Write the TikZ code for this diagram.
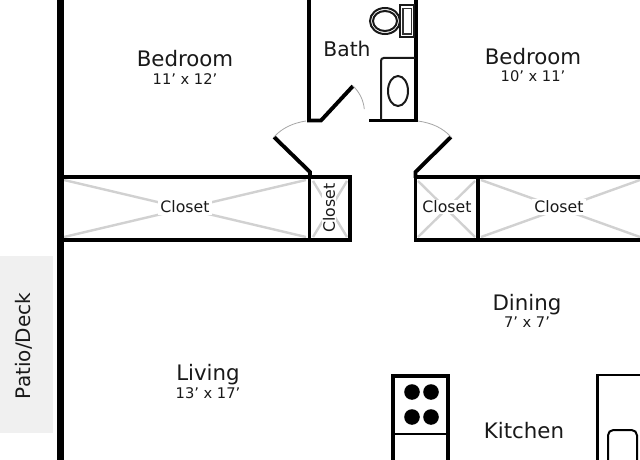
\documentclass[tikz,border=0pt]{standalone}
\usepackage{fontspec}
\setmainfont{DejaVu Sans}
\tikzset{
  x=0.75pt,y=-0.75pt,
  wall/.style={line width=3.4pt,line cap=butt,line join=miter,draw=black},
  thinwall/.style={line width=2.9pt,line cap=butt,line join=miter,draw=black},
  fixture/.style={line width=1.5pt,draw=black!90},
  swing/.style={line width=0.6pt,draw=black!35},
  xmark/.style={line width=1.8pt,draw=black!18},
  room/.style={font=\fontsize{16}{19}\selectfont,text=black!90,inner sep=0pt},
  size/.style={font=\fontsize{11}{13}\selectfont,text=black!90,inner sep=0pt},
  closetlabel/.style={font=\fontsize{11.8}{14}\selectfont,text=black!90,fill=white,inner sep=1.5pt},
}
\begin{document}
\begin{tikzpicture}
\useasboundingbox (0,0) rectangle (640,460);
\clip (0,0) rectangle (640,460);
\fill[white] (0,0) rectangle (640,460);
% patio
\fill[black!6] (0,256) rectangle (53,433);
% closet crosses
\draw[xmark] (64,180)--(306,237) (64,237)--(306,180);
\draw[xmark] (313,181)--(347,237) (313,237)--(347,181);
\draw[xmark] (418,181)--(475,237) (418,237)--(475,181);
\draw[xmark] (481,180)--(640,237) (481,237)--(640,180);
% outer wall
\draw[line width=5.4pt] (60.5,0)--(60.5,460);
% bath walls
\draw[thinwall] (309,0)--(309,120.5)--(321,120.5)--(353,86);
\draw[thinwall] (369,120.5)--(416,120.5);
\draw[thinwall] (416,0)--(416,122);
\draw[swing] (353,86) arc[start angle=-47,end angle=-5,radius=36];
% hall doors
\draw[thinwall] (310,178)--(310,172)--(274,137);
\draw[thinwall] (415.5,178)--(415.5,172)--(451,137);
\draw[swing] (274,137) .. controls (282,128) and (293,123) .. (306,121);
\draw[swing] (451,137) .. controls (443,128) and (432,123) .. (418,121);
% closets
\draw[thinwall] (60,177)--(350,177)--(350,240)--(60,240);
\draw[thinwall] (309.5,177)--(309.5,240);
\draw[thinwall] (640,177)--(415.5,177)--(415.5,240)--(640,240);
\draw[thinwall] (478,177)--(478,240);
% toilet
\draw[fixture] (385,21) ellipse[x radius=15,y radius=13];
\draw[fixture] (385,21) ellipse[x radius=12,y radius=10];
\draw[fixture,fill=white] (399.5,5) rectangle (414,37);
\draw[line width=1pt,draw=black!80] (403,8.5) rectangle (411.5,34);
% vanity
\draw[fixture,rounded corners=2pt] (381,120)--(381,58)--(415,58);
\draw[fixture] (398,91) ellipse[x radius=10,y radius=15];
% stove
\draw[line width=2.6pt] (393,460)--(393,376)--(448,376)--(448,460);
\draw[line width=1.8pt] (393,434)--(448,434);
\foreach \cx/\cy in {412/392,431/392,412/417,431/417}
  \fill[black] (\cx,\cy) circle[radius=7.8];
% fridge/counter
\draw[line width=2.2pt] (597.5,460)--(597.5,375)--(640,375);
\draw[line width=1.5pt,rounded corners=4pt] (608,461)--(608,430)--(637,430)--(637,461);
% labels
\node[room] (bedroomL) at (185,59) {Bedroom};
\node[size] (bedroomLs) at (185,79) {11' x 12'};
\node[room] (bedroomR) at (533,57) {Bedroom};
\node[size] (bedroomRs) at (533,76) {10' x 11'};
\node[room,font=\fontsize{15.2}{18}\selectfont] (bath) at (347,49) {Bath};
\node[closetlabel] (closetA) at (185,207) {Closet};
\node[closetlabel,rotate=90,inner sep=0.5pt] (closetB) at (329,208) {Closet};
\node[closetlabel,inner sep=0.5pt] (closetC) at (447,207) {Closet};
\node[closetlabel] (closetD) at (559,207) {Closet};
\node[room] (dining) at (527,304.5) {Dining};
\node[size] (diningS) at (527,322) {7' x 7'};
\node[room] (living) at (208,374.5) {Living};
\node[size] (livingS) at (208,393) {13' x 17'};
\node[room] (kitchen) at (524,431) {Kitchen};
\node[room,rotate=90,font=\fontsize{15}{18}\selectfont] (patio) at (24,346) {Patio/Deck};
\end{tikzpicture}
\end{document}
